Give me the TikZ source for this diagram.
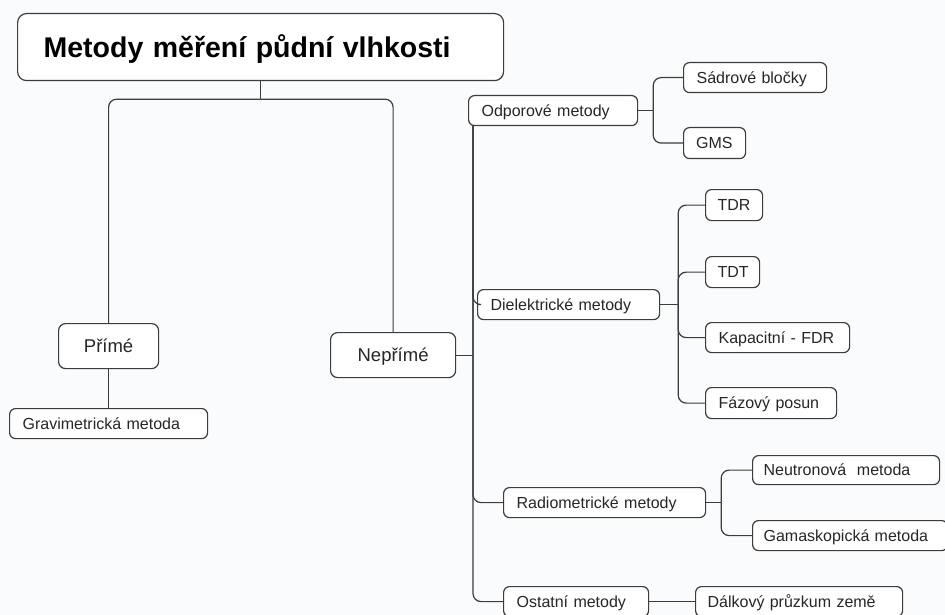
\documentclass[tikz,border=0pt]{standalone}
\usepackage{fontspec}
\setmainfont{Liberation Sans}
\usetikzlibrary{calc}
\definecolor{bgc}{RGB}{250,251,252}
\definecolor{linec}{RGB}{60,60,60}
\tikzset{
  bx/.style={draw=linec, line width=1.2pt, fill=white, rounded corners=6pt,
    anchor=north west, inner xsep=13pt, inner ysep=0pt, align=left,
    text height=11.5pt, text depth=0pt,
    font=\fontsize{16}{19}\selectfont, text=black!85},
  cbx/.style={draw=linec, line width=1.2pt, fill=white, rounded corners=7pt,
    anchor=north west, inner sep=0pt, align=center,
    text height=13.2pt, text depth=0pt,
    font=\fontsize{18.5}{22}\selectfont, text=black!85},
  conn/.style={draw=linec, line width=1.2pt},
  rconn/.style={draw=linec, line width=1.2pt, rounded corners=8pt},
}
\begin{document}
\begin{tikzpicture}[x=1pt,y=-1pt]
\useasboundingbox (0,0) rectangle (945,615);
\clip (0,0) rectangle (945,615);
\fill[bgc] (0,0) rectangle (945,615);

% title
\node[bx, inner xsep=26pt, minimum height=67pt, text width=434pt, rounded corners=9pt,
  text height=20.4pt, text depth=0pt,
  font=\fontsize{28.5}{33}\selectfont\bfseries, text=black] (title) at (17,13) {Metody měření půdní vlhkosti};

% level 1
\node[cbx, minimum width=100pt, minimum height=45pt] (prime) at (58,323) {Přímé};
\node[cbx, minimum width=125pt, minimum height=45pt] (neprime) at (330,332) {Nepřímé};
\node[bx, minimum height=30pt, text width=172pt] (grav) at (9,408) {Gravimetrická metoda};

% level 2
\node[bx, minimum height=30pt, text width=143pt] (odp) at (468,95) {Odporové metody};
\node[bx, minimum height=30pt, text width=156pt] (die) at (477,289) {Dielektrické metody};
\node[bx, minimum height=30pt, text width=176pt] (rad) at (503,487) {Radiometrické metody};
\node[bx, minimum height=30pt, text width=119pt] (ost) at (503,586) {Ostatní metody};

% level 3
\node[bx, minimum height=30pt, text width=117pt] (sad) at (683,62) {Sádrové bločky};
\node[bx, minimum height=31pt, text width=37pt, inner xsep=12.5pt] (gms) at (683,127) {GMS};
\node[bx, minimum height=31pt, text width=33pt, inner xsep=12pt] (tdr) at (705,189) {TDR};
\node[bx, minimum height=31pt, text width=30pt, inner xsep=12pt] (tdt) at (705,256) {TDT};
\node[bx, minimum height=30pt, text width=118pt] (kap) at (705,322) {Kapacitní - FDR};
\node[bx, minimum height=31pt, text width=105pt] (faz) at (705,387) {Fázový posun};
\node[bx, minimum height=29pt, text width=165pt, inner xsep=11pt] (neu) at (752,455) {Neutronová\ \ metoda};
\node[bx, minimum height=30pt, text width=173pt, inner xsep=11pt] (gam) at (752,520) {Gamaskopická metoda};
\node[bx, minimum height=30pt, text width=183pt, inner xsep=12pt] (dal) at (695,586) {Dálkový průzkum země};

% title connectors
\draw[conn] (title.south) -- ++(0,18) coordinate (tj);
\draw[rconn] (tj) -| (prime.north);
\draw[rconn] (tj) -| (neprime.north);
\draw[conn] (prime.south) -- (grav.north);

% main bus
\coordinate (bt) at ($(odp.south west)+(5pt,0)$);
\draw[rconn] (bt) |- (ost.west);
\draw[rconn] (bt) |- (rad.west);
\draw[rconn] (bt) |- (die.west);
\draw[conn] (neprime.east) -- (neprime.east -| bt);

% Odporove
\draw[conn] (odp.east) -- ++(15pt,0) coordinate (oj);
\draw[rconn] (oj) |- (sad.west);
\draw[rconn] (oj) |- (gms.west);

% Dielektricke
\draw[conn] (die.east) -- ++(18pt,0) coordinate (dj);
\draw[rconn] (dj) |- (tdr.west);
\draw[rconn] (dj) |- (tdt.west);
\draw[rconn] (dj) |- (kap.west);
\draw[rconn] (dj) |- (faz.west);

% Radiometricke
\draw[conn] (rad.east) -- ++(15pt,0) coordinate (rj);
\draw[rconn] (rj) |- (neu.west);
\draw[rconn] (rj) |- (gam.west);

% Ostatni
\draw[conn] (ost.east) -- (dal.west);
\end{tikzpicture}
\end{document}
